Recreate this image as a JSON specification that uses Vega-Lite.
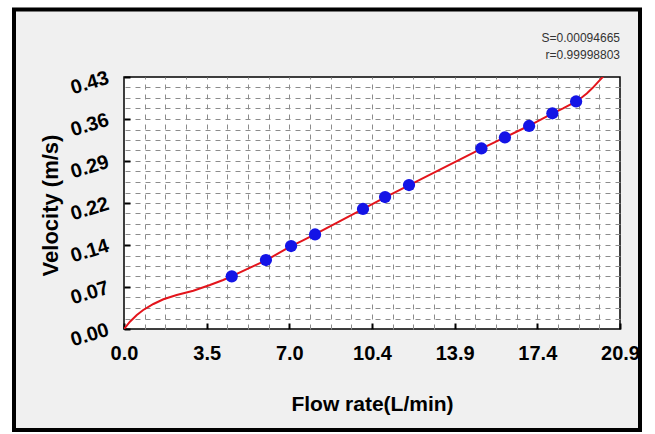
{
  "$schema": "https://vega.github.io/schema/vega-lite/v6.json",
  "width": 496,
  "height": 252,
  "autosize": "none",
  "padding": {"left": 124, "top": 77, "right": 35, "bottom": 105},
  "background": "#f0f0f0",
  "title": {
    "text": ["S=0.00094665", "r=0.99998803"],
    "anchor": "end",
    "frame": "group",
    "fontSize": 12,
    "fontWeight": "normal",
    "font": "Liberation Sans",
    "color": "#333333",
    "lineHeight": 17,
    "offset": -79
  },
  "datasets": {
    "frame": [{"part": "border"}],
    "curve": [
      {"flow": 0, "velocity": 0},
      {"flow": 0.25, "velocity": 0.0125},
      {"flow": 0.54, "velocity": 0.0239},
      {"flow": 0.81, "velocity": 0.0324},
      {"flow": 1.24, "velocity": 0.0427},
      {"flow": 1.66, "velocity": 0.0507},
      {"flow": 2.22, "velocity": 0.058},
      {"flow": 2.92, "velocity": 0.0654},
      {"flow": 3.62, "velocity": 0.0751},
      {"flow": 4.18, "velocity": 0.0836},
      {"flow": 4.55, "velocity": 0.0902},
      {"flow": 5.0, "velocity": 0.0988},
      {"flow": 5.5, "velocity": 0.1082},
      {"flow": 6.0, "velocity": 0.1175},
      {"flow": 6.5, "velocity": 0.129},
      {"flow": 7.0, "velocity": 0.1405},
      {"flow": 7.5, "velocity": 0.1505},
      {"flow": 8.0, "velocity": 0.1605},
      {"flow": 9.0, "velocity": 0.182},
      {"flow": 10.0, "velocity": 0.2033},
      {"flow": 11.0, "velocity": 0.2245},
      {"flow": 12.0, "velocity": 0.245},
      {"flow": 13.0, "velocity": 0.2655},
      {"flow": 14.0, "velocity": 0.2862},
      {"flow": 15.0, "velocity": 0.3066},
      {"flow": 16.0, "velocity": 0.3262},
      {"flow": 17.0, "velocity": 0.3455},
      {"flow": 18.0, "velocity": 0.3665},
      {"flow": 18.5, "velocity": 0.3765},
      {"flow": 19.0, "velocity": 0.3873},
      {"flow": 19.3, "velocity": 0.3955},
      {"flow": 19.5, "velocity": 0.402},
      {"flow": 19.75, "velocity": 0.4115},
      {"flow": 20.0, "velocity": 0.4225},
      {"flow": 20.2, "velocity": 0.431}
    ],
    "measured": [
      {"flow": 4.54, "velocity": 0.0899},
      {"flow": 5.98, "velocity": 0.1177},
      {"flow": 7.04, "velocity": 0.1416},
      {"flow": 8.05, "velocity": 0.1613},
      {"flow": 10.07, "velocity": 0.2048},
      {"flow": 11.0, "velocity": 0.2252},
      {"flow": 12.01, "velocity": 0.2457},
      {"flow": 15.06, "velocity": 0.308},
      {"flow": 16.05, "velocity": 0.3268},
      {"flow": 17.07, "velocity": 0.3464},
      {"flow": 18.05, "velocity": 0.3681},
      {"flow": 19.05, "velocity": 0.3882}
    ]
  },
  "layer": [
    {
      "data": {"name": "frame"},
      "mark": {"type": "rect", "fillOpacity": 0, "stroke": "white", "strokeWidth": 24},
      "encoding": {
        "x": {"datum": -5.225, "type": "quantitative", "scale": {"domain": [0, 20.9], "nice": false, "zero": false}, "axis": null},
        "x2": {"datum": 22.333},
        "y": {"datum": 0.5691, "type": "quantitative", "scale": {"domain": [0, 0.43], "nice": false, "zero": false}, "axis": null},
        "y2": {"datum": -0.1962}
      }
    },
    {
      "data": {"name": "frame"},
      "mark": {"type": "rect", "fillOpacity": 0, "stroke": "black", "strokeWidth": 4},
      "encoding": {
        "x": {"datum": -4.635, "type": "quantitative", "scale": {"domain": [0, 20.9], "nice": false, "zero": false}, "axis": null},
        "x2": {"datum": 21.743},
        "y": {"datum": 0.5452, "type": "quantitative", "scale": {"domain": [0, 0.43], "nice": false, "zero": false}, "axis": null},
        "y2": {"datum": -0.1723}
      }
    },
    {
      "data": {"name": "curve"},
      "mark": {"type": "line", "color": "#e3141b", "strokeWidth": 2, "clip": true},
      "encoding": {
        "x": {
          "field": "flow", "type": "quantitative",
          "scale": {"domain": [0, 20.9], "nice": false, "zero": false},
          "axis": {
            "orient": "top", "title": null, "labels": false, "ticks": false, "domain": false,
            "grid": true, "gridDash": [5, 5], "gridColor": "#8c8c8c", "gridWidth": 1,
            "values": [0.8708, 1.7417, 2.6125, 3.4833, 4.3542, 5.225, 6.0958, 6.9667, 7.8375, 8.7083, 9.5792, 10.45, 11.3208, 12.1917, 13.0625, 13.9333, 14.8042, 15.675, 16.5458, 17.4167, 18.2875, 19.1583, 20.0292]
          }
        },
        "y": {
          "field": "velocity", "type": "quantitative",
          "scale": {"domain": [0, 0.43], "nice": false, "zero": false},
          "axis": {
            "orient": "right", "title": null, "labels": false, "ticks": false, "domain": false,
            "grid": true, "gridDash": [5, 5], "gridColor": "#8c8c8c", "gridWidth": 1,
            "values": [0.0179, 0.0358, 0.0538, 0.0717, 0.0896, 0.1075, 0.1254, 0.1433, 0.1613, 0.1792, 0.1971, 0.215, 0.2329, 0.2508, 0.2688, 0.2867, 0.3046, 0.3225, 0.3404, 0.3583, 0.3763, 0.3942, 0.4121]
          }
        }
      }
    },
    {
      "data": {"name": "measured"},
      "mark": {"type": "point", "shape": "circle", "filled": true, "color": "#1414e6", "opacity": 1, "size": 150},
      "encoding": {
        "x": {
          "field": "flow", "type": "quantitative",
          "scale": {"domain": [0, 20.9], "nice": false, "zero": false},
          "axis": {
            "orient": "bottom", "title": "Flow rate(L/min)",
            "values": [0, 3.4833, 6.9667, 10.45, 13.9333, 17.4167, 20.9], "format": ".1f",
            "grid": false, "domain": false, "tickSize": -6, "tickWidth": 2, "tickColor": "black",
            "labelPadding": 20, "labelFontSize": 20, "labelFontWeight": "bold", "labelColor": "black",
            "labelFont": "Liberation Sans", "labelFlush": false, "labelOverlap": false,
            "titleFont": "Liberation Sans", "titleFontSize": 21, "titleFontWeight": "bold", "titleColor": "black",
            "titleY": 64
          }
        },
        "y": {
          "field": "velocity", "type": "quantitative",
          "scale": {"domain": [0, 0.43], "nice": false, "zero": false},
          "axis": {
            "orient": "left", "title": "Velocity (m/s)",
            "values": [0, 0.071667, 0.143333, 0.2150001, 0.286667, 0.358333, 0.43], "format": ".2f",
            "grid": false, "domain": false, "tickSize": -6, "tickWidth": 2, "tickColor": "black",
            "labelPadding": 22, "labelFontSize": 20, "labelFontWeight": "bold", "labelColor": "black",
            "labelFont": "Liberation Sans", "labelAngle": -17, "labelFlush": false, "labelOverlap": false,
            "titleFont": "Liberation Sans", "titleFontSize": 22, "titleFontWeight": "bold", "titleColor": "black",
            "titleX": -62, "titleY": 128
          }
        }
      }
    }
  ],
  "resolve": {"axis": {"x": "independent", "y": "independent"}},
  "config": {
    "view": {"fill": "white", "stroke": "black", "strokeWidth": 1.5}
  }
}
